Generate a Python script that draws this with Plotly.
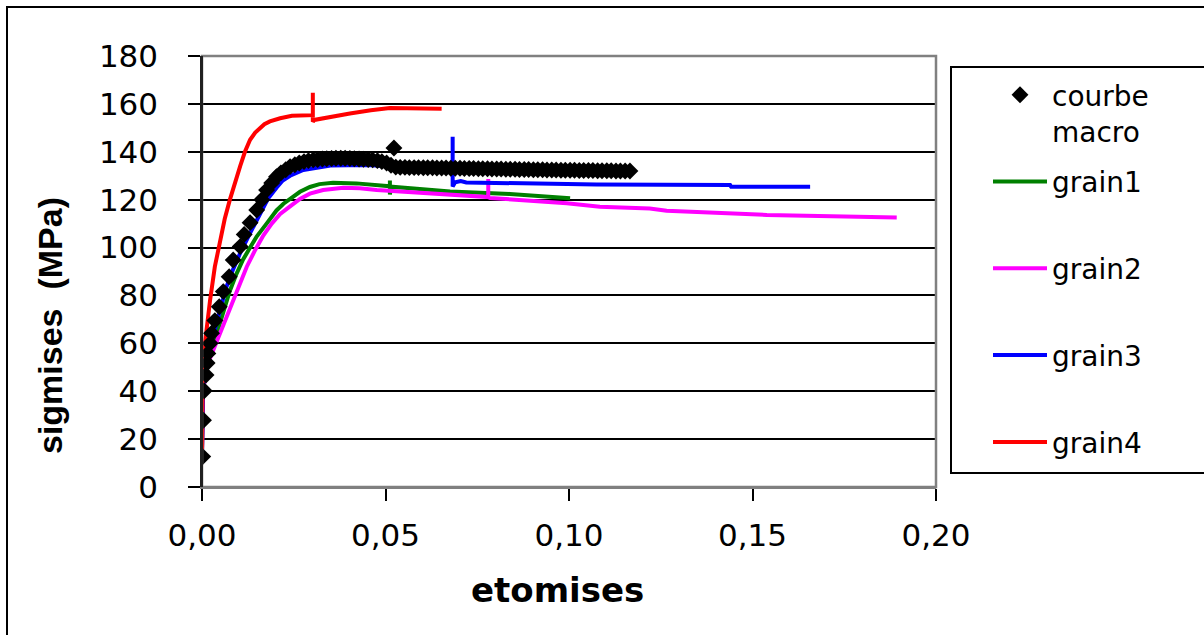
import plotly.graph_objects as go

# ---- data ----
macro_x = [0.0002, 0.0004, 0.0006, 0.0011, 0.0014, 0.0016, 0.0022, 0.0026, 0.0035, 0.0047,
           0.0058, 0.0074, 0.0085, 0.0104, 0.0115, 0.0131, 0.0149, 0.0163, 0.0176, 0.0190,
           0.0203, 0.0215, 0.0228, 0.0240, 0.0253, 0.0265, 0.0278, 0.0290, 0.0303, 0.0315,
           0.0328, 0.0340, 0.0353, 0.0365, 0.0378, 0.0390, 0.0403, 0.0415, 0.0428, 0.0440,
           0.0453, 0.0465, 0.0478, 0.0490, 0.0503, 0.0515, 0.0523, 0.0528,
           0.0540, 0.0553, 0.0565, 0.0578, 0.0590, 0.0603, 0.0615, 0.0628, 0.0640, 0.0653,
           0.0665, 0.0678, 0.0690, 0.0703, 0.0715, 0.0728, 0.0740, 0.0753, 0.0765, 0.0778,
           0.0790, 0.0803, 0.0815, 0.0828, 0.0840, 0.0853, 0.0865, 0.0878, 0.0890, 0.0903,
           0.0915, 0.0928, 0.0940, 0.0953, 0.0965, 0.0978, 0.0990, 0.1003, 0.1015, 0.1028,
           0.1040, 0.1053, 0.1065, 0.1078, 0.1090, 0.1103, 0.1115, 0.1128, 0.1140, 0.1153,
           0.1166]
macro_y = [12.7, 27.9, 40.2, 46.8, 51.8, 55.8, 60.0, 64.2, 69.5, 75.3,
           81.6, 87.8, 94.8, 100.4, 105.5, 110.4, 115.7, 120.0, 124.0, 127.0,
           129.6, 131.2, 132.5, 133.8, 134.6, 135.3, 135.9, 136.3, 136.6, 136.8,
           137.0, 137.1, 137.2, 137.3, 137.3, 137.3, 137.2, 137.1, 137.0, 136.9,
           136.8, 136.6, 136.3, 135.9, 135.3, 134.4, 141.6, 133.6,
           133.5, 133.5, 133.4, 133.4, 133.4, 133.3, 133.3, 133.3, 133.2, 133.2,
           133.2, 133.1, 133.1, 133.1, 133.0, 133.0, 133.0, 132.9, 132.9, 132.9,
           132.8, 132.8, 132.8, 132.7, 132.7, 132.7, 132.6, 132.6, 132.6, 132.5,
           132.5, 132.5, 132.4, 132.4, 132.4, 132.3, 132.3, 132.3, 132.3, 132.2,
           132.2, 132.2, 132.2, 132.1, 132.1, 132.1, 132.1, 132.0, 132.0, 132.0,
           132.0]

g1_x = [0.0, 0.0003, 0.0010, 0.0026, 0.0040, 0.0058, 0.0076, 0.0094, 0.0112, 0.0131,
        0.0149, 0.0176, 0.0203, 0.0222, 0.0240, 0.0267, 0.0294, 0.0320, 0.0357, 0.0421,
        0.0512, 0.0512, 0.0512, 0.0516, 0.0676, 0.0839, 0.1003]
g1_y = [14.0, 40.0, 50.0, 58.6, 64.0, 73.0, 82.0, 89.0, 95.0, 100.0,
        104.6, 110.0, 115.5, 118.3, 120.5, 123.3, 125.3, 126.5, 127.1, 126.8,
        125.6, 128.0, 122.2, 125.4, 123.4, 122.4, 120.6]

g2_x = [0.0, 0.0003, 0.0012, 0.0030, 0.0049, 0.0067, 0.0085, 0.0103, 0.0122, 0.0145,
        0.0167, 0.0190, 0.0213, 0.0240, 0.0267, 0.0294, 0.0330, 0.0385, 0.0430, 0.0476,
        0.0603, 0.0767, 0.0780, 0.0780, 0.0780, 0.0785, 0.0994, 0.1084, 0.1220, 0.1266,
        0.1539, 0.1893]
g2_y = [14.0, 40.0, 50.0, 57.0, 64.0, 71.0, 78.0, 85.0, 92.0, 99.0,
        105.0, 110.0, 114.0, 117.2, 120.3, 122.5, 124.0, 125.0, 124.8, 124.0,
        122.7, 121.3, 121.1, 128.6, 121.0, 120.7, 118.5, 117.0, 116.3, 115.4,
        113.6, 112.6]

g3_x = [0.0, 0.0003, 0.0010, 0.0025, 0.0045, 0.0067, 0.0085, 0.0104, 0.0131, 0.0158,
        0.0180, 0.0203, 0.0220, 0.0240, 0.0260, 0.0276, 0.0350, 0.0450, 0.0550, 0.0683,
        0.0683, 0.0683, 0.0690, 0.0705, 0.0720, 0.1075, 0.1439, 0.1442, 0.1657]
g3_y = [14.0, 42.0, 52.0, 60.0, 72.0, 83.7, 91.0, 97.7, 106.0, 114.4,
        120.5, 125.0, 128.0, 130.0, 131.5, 132.4, 134.3, 134.5, 133.5, 133.0,
        146.3, 125.5, 127.3, 127.8, 127.2, 126.3, 126.1, 125.4, 125.4]

g4_x = [0.0, 0.0002, 0.0008, 0.0015, 0.0022, 0.0035, 0.0049, 0.0062, 0.0076, 0.0090,
        0.0104, 0.0117, 0.0131, 0.0145, 0.0158, 0.0170, 0.0185, 0.0200, 0.0213, 0.0245,
        0.0280, 0.0302, 0.0302, 0.0302, 0.0306, 0.0350, 0.0403, 0.0460, 0.0512, 0.0653]
g4_y = [14.0, 45.0, 60.0, 70.0, 78.0, 92.0, 103.0, 112.0, 120.0, 127.5,
        134.0, 140.0, 145.0, 148.0, 150.0, 151.5, 152.7, 153.5, 154.0, 155.0,
        155.2, 155.3, 164.7, 152.5, 153.3, 154.7, 156.0, 157.3, 158.3, 158.0]

y_ticks = [0, 20, 40, 60, 80, 100, 120, 140, 160, 180]
x_ticks = [0.00, 0.05, 0.10, 0.15, 0.20]

names = ["courbe<br>macro", "grain1<br>\u00a0", "grain2<br>\u00a0", "grain3<br>\u00a0", "grain4<br>\u00a0"]
colors = ["#000000", "#008000", "#FF00FF", "#0000FF", "#FF0000"]

# ---- layout constants (pixels) ----
W, H = 1204, 635
L, R, T, B = 202, 936, 56, 487
pw, ph = R - L, B - T


def px(xp):
    return (xp - L) / pw


def py(yp):
    return (B - yp) / ph


fig = go.Figure()
grain_data = [(g1_x, g1_y), (g2_x, g2_y), (g3_x, g3_y), (g4_x, g4_y)]
for i, (gx, gy) in enumerate(grain_data):
    fig.add_trace(go.Scatter(
        x=gx, y=gy, mode="lines", name=names[i + 1],
        line=dict(color=colors[i + 1], width=4),
        legendgroup="g%d" % (i + 1), legendrank=i + 2,
    ))
fig.add_trace(go.Scatter(
    x=macro_x, y=macro_y, mode="markers", name=names[0],
    marker=dict(symbol="diamond", color="black", size=13, line=dict(width=0)),
    legendgroup="m", legendrank=1,
))

tickfont = dict(family="DejaVu Sans", size=31, color="black")

fig.update_layout(
    width=W, height=H,
    margin=dict(l=L, r=W - R, t=T, b=H - B, pad=0),
    paper_bgcolor="white", plot_bgcolor="white",
    separators=",.",
    showlegend=True,
    legend=dict(
        x=px(988), y=py(70), xanchor="left", yanchor="top",
        bgcolor="rgba(0,0,0,0)", borderwidth=0,
        font=dict(family="DejaVu Sans", size=28, color="black"),
        tracegroupgap=11, valign="top", itemwidth=54, maxheight=600,
    ),
    xaxis=dict(
        range=[0, 0.20], tickvals=x_ticks, tickformat=".2f",
        showgrid=False, zeroline=False,
        showline=True, linecolor="#808080", linewidth=2,
        ticks="outside", ticklen=12, tickwidth=1.5, tickcolor="black",
        tickfont=tickfont, ticklabelstandoff=8,
    ),
    yaxis=dict(
        range=[0, 180], tickvals=y_ticks,
        showgrid=True, gridcolor="black", gridwidth=2, zeroline=False,
        showline=True, linecolor="black", linewidth=1.5,
        ticks="outside", ticklen=12, tickwidth=1.5, tickcolor="black",
        tickfont=tickfont, ticklabelstandoff=24,
    ),
    shapes=[
        dict(type="rect", xref="paper", yref="paper", x0=0, x1=1, y0=0, y1=1,
             line=dict(color="#808080", width=2.5), layer="above"),
        dict(type="line", xref="paper", yref="paper", x0=0, x1=0, y0=0, y1=1,
             line=dict(color="black", width=1.5), layer="above"),
        dict(type="rect", xref="paper", yref="paper",
             x0=px(951), x1=px(1215), y0=py(473), y1=py(67),
             line=dict(color="black", width=2)),
        dict(type="rect", xref="paper", yref="paper",
             x0=px(7), x1=px(1220), y0=py(650), y1=py(7),
             line=dict(color="black", width=2)),
    ],
    annotations=[
        dict(text="etomises", xref="paper", yref="paper", x=px(557), y=py(590),
             xanchor="center", yanchor="middle", showarrow=False,
             font=dict(family="DejaVu Sans", size=34, color="black", weight="bold")),
        dict(text="sigmises\u00a0 (MPa)", xref="paper", yref="paper", x=px(50), y=py(326),
             xanchor="center", yanchor="middle", showarrow=False, textangle=-90,
             font=dict(family="Liberation Sans", size=34, color="black", weight="bold")),
    ],
)

fig.write_html("out.html", config={"displayModeBar": False},
               post_script="document.body.style.margin='0';")
